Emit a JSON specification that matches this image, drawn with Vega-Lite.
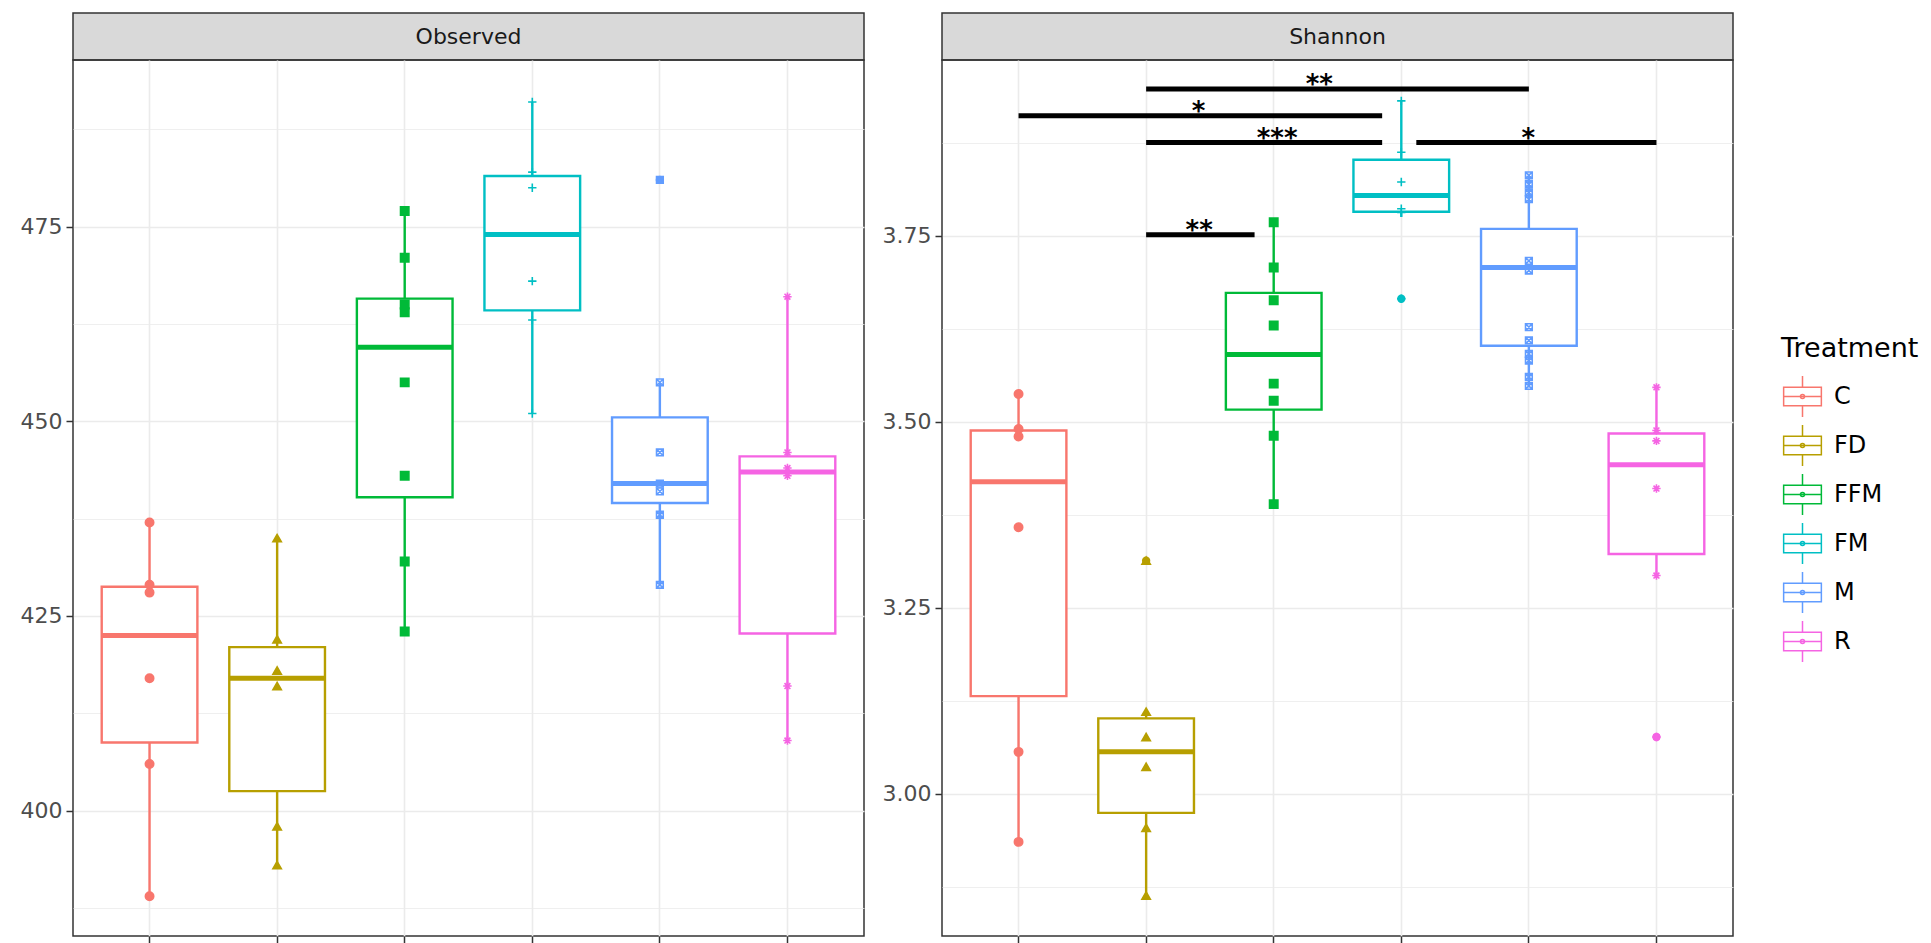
{
  "$schema": "https://vega.github.io/schema/vega-lite/v6.json",
  "padding": {"left": 19, "top": 12, "right": 0, "bottom": 0},
  "background": "white",
  "datasets": {
    "stats": [
      {"metric": "Observed", "Treatment": "C", "lo": 389, "q1": 408.75, "med": 422.5, "q3": 428.75, "hi": 437},
      {"metric": "Observed", "Treatment": "FD", "lo": 393, "q1": 402.5, "med": 417, "q3": 421, "hi": 435},
      {"metric": "Observed", "Treatment": "FFM", "lo": 423, "q1": 440.25, "med": 459.5, "q3": 465.75, "hi": 477},
      {"metric": "Observed", "Treatment": "FM", "lo": 451, "q1": 464.25, "med": 474, "q3": 481.5, "hi": 491},
      {"metric": "Observed", "Treatment": "M", "lo": 429, "q1": 439.5, "med": 442, "q3": 450.5, "hi": 455},
      {"metric": "Observed", "Treatment": "R", "lo": 409, "q1": 422.75, "med": 443.5, "q3": 445.5, "hi": 466},
      {"metric": "Shannon", "Treatment": "C", "lo": 2.935, "q1": 3.131, "med": 3.419, "q3": 3.488, "hi": 3.537},
      {"metric": "Shannon", "Treatment": "FD", "lo": 2.863, "q1": 2.974, "med": 3.056, "q3": 3.101, "hi": 3.11},
      {"metric": "Shannon", "Treatment": "FFM", "lo": 3.389, "q1": 3.516, "med": 3.59, "q3": 3.673, "hi": 3.768},
      {"metric": "Shannon", "Treatment": "FM", "lo": 3.775, "q1": 3.782, "med": 3.804, "q3": 3.852, "hi": 3.931},
      {"metric": "Shannon", "Treatment": "M", "lo": 3.546, "q1": 3.602, "med": 3.707, "q3": 3.759, "hi": 3.833},
      {"metric": "Shannon", "Treatment": "R", "lo": 3.293, "q1": 3.322, "med": 3.442, "q3": 3.484, "hi": 3.546}
    ],
    "points": [
      {"metric": "Observed", "Treatment": "C", "value": 389},
      {"metric": "Observed", "Treatment": "C", "value": 406},
      {"metric": "Observed", "Treatment": "C", "value": 417},
      {"metric": "Observed", "Treatment": "C", "value": 428},
      {"metric": "Observed", "Treatment": "C", "value": 429},
      {"metric": "Observed", "Treatment": "C", "value": 437},
      {"metric": "Observed", "Treatment": "FD", "value": 393},
      {"metric": "Observed", "Treatment": "FD", "value": 398},
      {"metric": "Observed", "Treatment": "FD", "value": 416},
      {"metric": "Observed", "Treatment": "FD", "value": 418},
      {"metric": "Observed", "Treatment": "FD", "value": 422},
      {"metric": "Observed", "Treatment": "FD", "value": 435},
      {"metric": "Observed", "Treatment": "FFM", "value": 423},
      {"metric": "Observed", "Treatment": "FFM", "value": 432},
      {"metric": "Observed", "Treatment": "FFM", "value": 443},
      {"metric": "Observed", "Treatment": "FFM", "value": 455},
      {"metric": "Observed", "Treatment": "FFM", "value": 464},
      {"metric": "Observed", "Treatment": "FFM", "value": 465},
      {"metric": "Observed", "Treatment": "FFM", "value": 471},
      {"metric": "Observed", "Treatment": "FFM", "value": 477},
      {"metric": "Observed", "Treatment": "FM", "value": 451},
      {"metric": "Observed", "Treatment": "FM", "value": 463},
      {"metric": "Observed", "Treatment": "FM", "value": 468},
      {"metric": "Observed", "Treatment": "FM", "value": 480},
      {"metric": "Observed", "Treatment": "FM", "value": 482},
      {"metric": "Observed", "Treatment": "FM", "value": 491},
      {"metric": "Observed", "Treatment": "M", "value": 429},
      {"metric": "Observed", "Treatment": "M", "value": 438},
      {"metric": "Observed", "Treatment": "M", "value": 441},
      {"metric": "Observed", "Treatment": "M", "value": 442},
      {"metric": "Observed", "Treatment": "M", "value": 446},
      {"metric": "Observed", "Treatment": "M", "value": 455},
      {"metric": "Observed", "Treatment": "M", "value": 481, "outlier": true},
      {"metric": "Observed", "Treatment": "R", "value": 409},
      {"metric": "Observed", "Treatment": "R", "value": 416},
      {"metric": "Observed", "Treatment": "R", "value": 443},
      {"metric": "Observed", "Treatment": "R", "value": 444},
      {"metric": "Observed", "Treatment": "R", "value": 446},
      {"metric": "Observed", "Treatment": "R", "value": 466},
      {"metric": "Shannon", "Treatment": "C", "value": 2.935},
      {"metric": "Shannon", "Treatment": "C", "value": 3.056},
      {"metric": "Shannon", "Treatment": "C", "value": 3.358},
      {"metric": "Shannon", "Treatment": "C", "value": 3.48},
      {"metric": "Shannon", "Treatment": "C", "value": 3.49},
      {"metric": "Shannon", "Treatment": "C", "value": 3.537},
      {"metric": "Shannon", "Treatment": "FD", "value": 2.863},
      {"metric": "Shannon", "Treatment": "FD", "value": 2.954},
      {"metric": "Shannon", "Treatment": "FD", "value": 3.036},
      {"metric": "Shannon", "Treatment": "FD", "value": 3.076},
      {"metric": "Shannon", "Treatment": "FD", "value": 3.11},
      {"metric": "Shannon", "Treatment": "FD", "value": 3.313, "outlier": true},
      {"metric": "Shannon", "Treatment": "FFM", "value": 3.389},
      {"metric": "Shannon", "Treatment": "FFM", "value": 3.481},
      {"metric": "Shannon", "Treatment": "FFM", "value": 3.528},
      {"metric": "Shannon", "Treatment": "FFM", "value": 3.551},
      {"metric": "Shannon", "Treatment": "FFM", "value": 3.629},
      {"metric": "Shannon", "Treatment": "FFM", "value": 3.663},
      {"metric": "Shannon", "Treatment": "FFM", "value": 3.707},
      {"metric": "Shannon", "Treatment": "FFM", "value": 3.768},
      {"metric": "Shannon", "Treatment": "FM", "value": 3.665, "outlier": true},
      {"metric": "Shannon", "Treatment": "FM", "value": 3.781},
      {"metric": "Shannon", "Treatment": "FM", "value": 3.786},
      {"metric": "Shannon", "Treatment": "FM", "value": 3.822},
      {"metric": "Shannon", "Treatment": "FM", "value": 3.862},
      {"metric": "Shannon", "Treatment": "FM", "value": 3.931},
      {"metric": "Shannon", "Treatment": "M", "value": 3.548},
      {"metric": "Shannon", "Treatment": "M", "value": 3.56},
      {"metric": "Shannon", "Treatment": "M", "value": 3.582},
      {"metric": "Shannon", "Treatment": "M", "value": 3.591},
      {"metric": "Shannon", "Treatment": "M", "value": 3.609},
      {"metric": "Shannon", "Treatment": "M", "value": 3.627},
      {"metric": "Shannon", "Treatment": "M", "value": 3.703},
      {"metric": "Shannon", "Treatment": "M", "value": 3.716},
      {"metric": "Shannon", "Treatment": "M", "value": 3.799},
      {"metric": "Shannon", "Treatment": "M", "value": 3.808},
      {"metric": "Shannon", "Treatment": "M", "value": 3.819},
      {"metric": "Shannon", "Treatment": "M", "value": 3.831},
      {"metric": "Shannon", "Treatment": "R", "value": 3.076, "outlier": true},
      {"metric": "Shannon", "Treatment": "R", "value": 3.293},
      {"metric": "Shannon", "Treatment": "R", "value": 3.41},
      {"metric": "Shannon", "Treatment": "R", "value": 3.474},
      {"metric": "Shannon", "Treatment": "R", "value": 3.488},
      {"metric": "Shannon", "Treatment": "R", "value": 3.546}
    ],
    "sig": [
      {"g1": "FD", "g2": "M", "y": 3.947, "label": "**"},
      {"g1": "C", "g2": "FM", "y": 3.911, "label": "*"},
      {"g1": "FD", "g2": "FM", "y": 3.875, "label": "***"},
      {"g1": "FM", "g2": "R", "y": 3.875, "label": "*"},
      {"g1": "FD", "g2": "FFM", "y": 3.751, "label": "**"}
    ]
  },
  "columns": 2,
  "bounds": "flush",
  "spacing": {"row": 0, "column": 78},
  "concat": [
    {
      "width": 791, "height": 47,
      "view": {"fill": "#d9d9d9", "stroke": "#333333", "strokeWidth": 1.5},
      "data": {"values": [{"panel": "Observed"}]},
      "mark": {"type": "text", "fontSize": 22, "font": "DejaVu Sans", "fill": "#1a1a1a", "baseline": "middle", "align": "center"},
      "encoding": {"text": {"field": "panel"}}
    },
    {
      "width": 791, "height": 47,
      "view": {"fill": "#d9d9d9", "stroke": "#333333", "strokeWidth": 1.5},
      "data": {"values": [{"panel": "Shannon"}]},
      "mark": {"type": "text", "fontSize": 22, "font": "DejaVu Sans", "fill": "#1a1a1a", "baseline": "middle", "align": "center"},
      "encoding": {"text": {"field": "panel"}}
    },
    {
      "width": 791, "height": 876,
      "layer": [
        {
          "data": {"name": "stats"},
          "transform": [{"filter": "datum.metric === 'Observed'"}],
          "mark": {"type": "rule", "strokeWidth": 2.4},
          "encoding": {
            "x": {"field": "Treatment", "type": "nominal", "scale": {"domain": ["C", "FD", "FFM", "FM", "M", "R"], "paddingInner": 0.25, "paddingOuter": 0.225},
                  "axis": {"title": null, "labels": false, "ticks": true, "tickSize": 7, "tickColor": "#333333", "tickWidth": 1.5, "grid": true, "gridColor": "#ebebeb", "gridWidth": 1.6, "domain": false, "bandPosition": 0.5}},
            "y": {"field": "lo", "type": "quantitative", "scale": {"domain": [383.9, 496.4], "nice": false, "zero": false},
                  "axis": {"title": null, "values": [387.5, 400, 412.5, 425, 437.5, 450, 462.5, 475, 487.5],
                           "labelExpr": "datum.value % 25 === 0 ? datum.label : ''",
                           "tickOpacity": {"condition": {"test": "datum.value % 25 === 0", "value": 1}, "value": 0},
                           "gridWidth": {"condition": {"test": "datum.value % 25 === 0", "value": 1.6}, "value": 0.8},
                           "gridColor": "#ebebeb", "tickSize": 7, "tickColor": "#333333", "tickWidth": 1.5,
                           "labelColor": "#4d4d4d", "labelFontSize": 22, "labelFont": "DejaVu Sans", "labelPadding": 4,
                           "domain": false, "labelOverlap": false}},
            "y2": {"field": "hi"},
            "stroke": {"field": "Treatment", "type": "nominal", "scale": {"range": ["#F8766D", "#B79F00", "#00BA38", "#00BFC4", "#619CFF", "#F564E3"]}}
          }
        },
        {
          "data": {"name": "stats"},
          "transform": [{"filter": "datum.metric === 'Observed'"}],
          "mark": {"type": "bar", "fill": "white", "strokeWidth": 2.4},
          "encoding": {
            "x": {"field": "Treatment", "type": "nominal", "scale": {"domain": ["C", "FD", "FFM", "FM", "M", "R"], "paddingInner": 0.25, "paddingOuter": 0.225}},
            "y": {"field": "q1", "type": "quantitative", "scale": {"domain": [383.9, 496.4], "nice": false, "zero": false}},
            "y2": {"field": "q3"},
            "stroke": {"field": "Treatment", "type": "nominal", "scale": {"range": ["#F8766D", "#B79F00", "#00BA38", "#00BFC4", "#619CFF", "#F564E3"]},
                       "legend": {"title": "Treatment", "orient": "none", "legendX": 1708, "legendY": 323,
                                  "symbolType": "M-0.92,-0.45H0.92V0.45H-0.92Z M-0.92,0H0.92 M0,-0.45V-1 M0,0.45V1 M-0.1,0 a0.1,0.1 0 1,0 0.2,0 a0.1,0.1 0 1,0 -0.2,0",
                                  "symbolSize": 1681, "symbolStrokeWidth": 1.5, "symbolFillColor": "white",
                                  "labelFontSize": 24, "labelFont": "DejaVu Sans", "labelColor": "#000000",
                                  "titleFontSize": 27, "titleFont": "DejaVu Sans", "titleFontWeight": "normal", "titleColor": "#000000",
                                  "titlePadding": 12, "labelOffset": 10, "rowPadding": 2, "padding": 0}}
          }
        },
        {
          "data": {"name": "stats"},
          "transform": [{"filter": "datum.metric === 'Observed'"}],
          "mark": {"type": "rule", "strokeWidth": 5},
          "encoding": {
            "x": {"field": "Treatment", "type": "nominal", "bandPosition": 0, "scale": {"domain": ["C", "FD", "FFM", "FM", "M", "R"], "paddingInner": 0.25, "paddingOuter": 0.225}},
            "x2": {"field": "Treatment", "bandPosition": 1},
            "y": {"field": "med", "type": "quantitative", "scale": {"domain": [383.9, 496.4], "nice": false, "zero": false}},
            "stroke": {"field": "Treatment", "type": "nominal", "scale": {"range": ["#F8766D", "#B79F00", "#00BA38", "#00BFC4", "#619CFF", "#F564E3"]}}
          }
        },
        {
          "data": {"name": "points"},
          "transform": [{"filter": "datum.metric === 'Observed' && datum.outlier === true"}],
          "mark": {"type": "point", "shape": "circle", "filled": true, "size": 70, "opacity": 1},
          "encoding": {
            "x": {"field": "Treatment", "type": "nominal", "scale": {"domain": ["C", "FD", "FFM", "FM", "M", "R"], "paddingInner": 0.25, "paddingOuter": 0.225}},
            "y": {"field": "value", "type": "quantitative", "scale": {"domain": [383.9, 496.4], "nice": false, "zero": false}},
            "color": {"field": "Treatment", "type": "nominal", "scale": {"domain": ["C", "FD", "FFM", "FM", "M", "R"], "range": ["#F8766D", "#B79F00", "#00BA38", "#00BFC4", "#619CFF", "#F564E3"]}, "legend": null}
          }
        },
        {
          "data": {"name": "points"},
          "transform": [{"filter": "datum.metric === 'Observed'"}],
          "mark": {"type": "point", "filled": false, "size": 70, "strokeWidth": 1.6, "opacity": 1},
          "encoding": {
            "x": {"field": "Treatment", "type": "nominal", "scale": {"domain": ["C", "FD", "FFM", "FM", "M", "R"], "paddingInner": 0.25, "paddingOuter": 0.225}},
            "y": {"field": "value", "type": "quantitative", "scale": {"domain": [383.9, 496.4], "nice": false, "zero": false}},
            "shape": {"field": "Treatment", "type": "nominal", "scale": {"domain": ["C", "FD", "FFM", "FM", "M", "R"], "range": ["circle", "triangle-up", "square", "M-1,0H1M0,-1V1", "M-0.8,-0.8H0.8V0.8H-0.8Z M-0.8,-0.8L0.8,0.8 M-0.8,0.8L0.8,-0.8", "M-1,0H1M0,-1V1M-0.7,-0.7L0.7,0.7M-0.7,0.7L0.7,-0.7"]}, "legend": null},
            "fill": {"field": "Treatment", "type": "nominal", "scale": {"domain": ["C", "FD", "FFM", "FM", "M", "R"], "range": ["#F8766D", "#B79F00", "#00BA38", "transparent", "transparent", "transparent"]}, "legend": null},
            "color": {"field": "Treatment", "type": "nominal", "scale": {"domain": ["C", "FD", "FFM", "FM", "M", "R"], "range": ["#F8766D", "#B79F00", "#00BA38", "#00BFC4", "#619CFF", "#F564E3"]}, "legend": null}
          }
        }
      ]
    },
    {
      "width": 791, "height": 876,
      "layer": [
        {
          "data": {"name": "stats"},
          "transform": [{"filter": "datum.metric === 'Shannon'"}],
          "mark": {"type": "rule", "strokeWidth": 2.4},
          "encoding": {
            "x": {"field": "Treatment", "type": "nominal", "scale": {"domain": ["C", "FD", "FFM", "FM", "M", "R"], "paddingInner": 0.25, "paddingOuter": 0.225},
                  "axis": {"title": null, "labels": false, "ticks": true, "tickSize": 7, "tickColor": "#333333", "tickWidth": 1.5, "grid": true, "gridColor": "#ebebeb", "gridWidth": 1.6, "domain": false, "bandPosition": 0.5}},
            "y": {"field": "lo", "type": "quantitative", "scale": {"domain": [2.8085, 3.986], "nice": false, "zero": false},
                  "axis": {"title": null, "values": [2.875, 3.0, 3.125, 3.25, 3.375, 3.5, 3.625, 3.75, 3.875],
                           "labelExpr": "abs(datum.value*4 - round(datum.value*4)) < 0.001 ? format(datum.value, '.2f') : ''",
                           "tickOpacity": {"condition": {"test": "abs(datum.value*4 - round(datum.value*4)) < 0.001", "value": 1}, "value": 0},
                           "gridWidth": {"condition": {"test": "abs(datum.value*4 - round(datum.value*4)) < 0.001", "value": 1.6}, "value": 0.8},
                           "gridColor": "#ebebeb", "tickSize": 7, "tickColor": "#333333", "tickWidth": 1.5,
                           "labelColor": "#4d4d4d", "labelFontSize": 22, "labelFont": "DejaVu Sans", "labelPadding": 4,
                           "domain": false, "labelOverlap": false}},
            "y2": {"field": "hi"},
            "stroke": {"field": "Treatment", "type": "nominal", "scale": {"range": ["#F8766D", "#B79F00", "#00BA38", "#00BFC4", "#619CFF", "#F564E3"]}}
          }
        },
        {
          "data": {"name": "stats"},
          "transform": [{"filter": "datum.metric === 'Shannon'"}],
          "mark": {"type": "bar", "fill": "white", "strokeWidth": 2.4},
          "encoding": {
            "x": {"field": "Treatment", "type": "nominal", "scale": {"domain": ["C", "FD", "FFM", "FM", "M", "R"], "paddingInner": 0.25, "paddingOuter": 0.225}},
            "y": {"field": "q1", "type": "quantitative", "scale": {"domain": [2.8085, 3.986], "nice": false, "zero": false}},
            "y2": {"field": "q3"},
            "stroke": {"field": "Treatment", "type": "nominal", "scale": {"range": ["#F8766D", "#B79F00", "#00BA38", "#00BFC4", "#619CFF", "#F564E3"]}}
          }
        },
        {
          "data": {"name": "stats"},
          "transform": [{"filter": "datum.metric === 'Shannon'"}],
          "mark": {"type": "rule", "strokeWidth": 5},
          "encoding": {
            "x": {"field": "Treatment", "type": "nominal", "bandPosition": 0, "scale": {"domain": ["C", "FD", "FFM", "FM", "M", "R"], "paddingInner": 0.25, "paddingOuter": 0.225}},
            "x2": {"field": "Treatment", "bandPosition": 1},
            "y": {"field": "med", "type": "quantitative", "scale": {"domain": [2.8085, 3.986], "nice": false, "zero": false}},
            "stroke": {"field": "Treatment", "type": "nominal", "scale": {"range": ["#F8766D", "#B79F00", "#00BA38", "#00BFC4", "#619CFF", "#F564E3"]}}
          }
        },
        {
          "data": {"name": "points"},
          "transform": [{"filter": "datum.metric === 'Shannon' && datum.outlier === true"}],
          "mark": {"type": "point", "shape": "circle", "filled": true, "size": 70, "opacity": 1},
          "encoding": {
            "x": {"field": "Treatment", "type": "nominal", "scale": {"domain": ["C", "FD", "FFM", "FM", "M", "R"], "paddingInner": 0.25, "paddingOuter": 0.225}},
            "y": {"field": "value", "type": "quantitative", "scale": {"domain": [2.8085, 3.986], "nice": false, "zero": false}},
            "color": {"field": "Treatment", "type": "nominal", "scale": {"domain": ["C", "FD", "FFM", "FM", "M", "R"], "range": ["#F8766D", "#B79F00", "#00BA38", "#00BFC4", "#619CFF", "#F564E3"]}, "legend": null}
          }
        },
        {
          "data": {"name": "points"},
          "transform": [{"filter": "datum.metric === 'Shannon'"}],
          "mark": {"type": "point", "filled": false, "size": 70, "strokeWidth": 1.6, "opacity": 1},
          "encoding": {
            "x": {"field": "Treatment", "type": "nominal", "scale": {"domain": ["C", "FD", "FFM", "FM", "M", "R"], "paddingInner": 0.25, "paddingOuter": 0.225}},
            "y": {"field": "value", "type": "quantitative", "scale": {"domain": [2.8085, 3.986], "nice": false, "zero": false}},
            "shape": {"field": "Treatment", "type": "nominal", "scale": {"domain": ["C", "FD", "FFM", "FM", "M", "R"], "range": ["circle", "triangle-up", "square", "M-1,0H1M0,-1V1", "M-0.8,-0.8H0.8V0.8H-0.8Z M-0.8,-0.8L0.8,0.8 M-0.8,0.8L0.8,-0.8", "M-1,0H1M0,-1V1M-0.7,-0.7L0.7,0.7M-0.7,0.7L0.7,-0.7"]}, "legend": null},
            "fill": {"field": "Treatment", "type": "nominal", "scale": {"domain": ["C", "FD", "FFM", "FM", "M", "R"], "range": ["#F8766D", "#B79F00", "#00BA38", "transparent", "transparent", "transparent"]}, "legend": null},
            "color": {"field": "Treatment", "type": "nominal", "scale": {"domain": ["C", "FD", "FFM", "FM", "M", "R"], "range": ["#F8766D", "#B79F00", "#00BA38", "#00BFC4", "#619CFF", "#F564E3"]}, "legend": null}
          }
        },
        {
          "data": {"name": "sig"},
          "transform": [{"filter": "datum.g2 === 'M'"}],
          "mark": {"type": "rule", "strokeWidth": 5, "stroke": "#000000"},
          "encoding": {
            "x": {"field": "g1", "type": "nominal", "bandPosition": 0.5, "scale": {"domain": ["C", "FD", "FFM", "FM", "M", "R"], "paddingInner": 0.25, "paddingOuter": 0.225}},
            "x2": {"field": "g2", "bandPosition": 0.5},
            "y": {"field": "y", "type": "quantitative", "scale": {"domain": [2.8085, 3.986], "nice": false, "zero": false}}
          }
        },
        {
          "data": {"name": "sig"},
          "transform": [{"filter": "datum.g2 === 'FM' || datum.g2 === 'FFM'"}],
          "mark": {"type": "rule", "strokeWidth": 5, "stroke": "#000000"},
          "encoding": {
            "x": {"field": "g1", "type": "nominal", "bandPosition": 0.5, "scale": {"domain": ["C", "FD", "FFM", "FM", "M", "R"], "paddingInner": 0.25, "paddingOuter": 0.225}},
            "x2": {"field": "g2", "bandPosition": 0.3},
            "y": {"field": "y", "type": "quantitative", "scale": {"domain": [2.8085, 3.986], "nice": false, "zero": false}}
          }
        },
        {
          "data": {"name": "sig"},
          "transform": [{"filter": "datum.g1 === 'FM'"}],
          "mark": {"type": "rule", "strokeWidth": 5, "stroke": "#000000"},
          "encoding": {
            "x": {"field": "g1", "type": "nominal", "bandPosition": 0.657, "scale": {"domain": ["C", "FD", "FFM", "FM", "M", "R"], "paddingInner": 0.25, "paddingOuter": 0.225}},
            "x2": {"field": "g2", "bandPosition": 0.5},
            "y": {"field": "y", "type": "quantitative", "scale": {"domain": [2.8085, 3.986], "nice": false, "zero": false}}
          }
        },
        {
          "data": {"name": "sig"},
          "transform": [{"filter": "datum.g1 === 'FD' && datum.g2 === 'M'"}],
          "mark": {"type": "text", "fontSize": 26, "fontWeight": "bold", "font": "DejaVu Sans", "fill": "#000000", "baseline": "alphabetic", "align": "center", "dy": 4},
          "encoding": {
            "x": {"field": "g1", "type": "nominal", "bandPosition": 2.31, "scale": {"domain": ["C", "FD", "FFM", "FM", "M", "R"], "paddingInner": 0.25, "paddingOuter": 0.225}},
            "y": {"field": "y", "type": "quantitative", "scale": {"domain": [2.8085, 3.986], "nice": false, "zero": false}},
            "text": {"field": "label"}
          }
        },
        {
          "data": {"name": "sig"},
          "transform": [{"filter": "datum.g1 === 'C' && datum.g2 === 'FM'"}],
          "mark": {"type": "text", "fontSize": 26, "fontWeight": "bold", "font": "DejaVu Sans", "fill": "#000000", "baseline": "alphabetic", "align": "center", "dy": 4},
          "encoding": {
            "x": {"field": "g1", "type": "nominal", "bandPosition": 2.38, "scale": {"domain": ["C", "FD", "FFM", "FM", "M", "R"], "paddingInner": 0.25, "paddingOuter": 0.225}},
            "y": {"field": "y", "type": "quantitative", "scale": {"domain": [2.8085, 3.986], "nice": false, "zero": false}},
            "text": {"field": "label"}
          }
        },
        {
          "data": {"name": "sig"},
          "transform": [{"filter": "datum.g1 === 'FD' && datum.g2 === 'FM'"}],
          "mark": {"type": "text", "fontSize": 26, "fontWeight": "bold", "font": "DejaVu Sans", "fill": "#000000", "baseline": "alphabetic", "align": "center", "dy": 4},
          "encoding": {
            "x": {"field": "g1", "type": "nominal", "bandPosition": 1.869, "scale": {"domain": ["C", "FD", "FFM", "FM", "M", "R"], "paddingInner": 0.25, "paddingOuter": 0.225}},
            "y": {"field": "y", "type": "quantitative", "scale": {"domain": [2.8085, 3.986], "nice": false, "zero": false}},
            "text": {"field": "label"}
          }
        },
        {
          "data": {"name": "sig"},
          "transform": [{"filter": "datum.g1 === 'FD' && datum.g2 === 'FFM'"}],
          "mark": {"type": "text", "fontSize": 26, "fontWeight": "bold", "font": "DejaVu Sans", "fill": "#000000", "baseline": "alphabetic", "align": "center", "dy": 4},
          "encoding": {
            "x": {"field": "g1", "type": "nominal", "bandPosition": 1.054, "scale": {"domain": ["C", "FD", "FFM", "FM", "M", "R"], "paddingInner": 0.25, "paddingOuter": 0.225}},
            "y": {"field": "y", "type": "quantitative", "scale": {"domain": [2.8085, 3.986], "nice": false, "zero": false}},
            "text": {"field": "label"}
          }
        },
        {
          "data": {"name": "sig"},
          "transform": [{"filter": "datum.g1 === 'FM' && datum.g2 === 'R'"}],
          "mark": {"type": "text", "fontSize": 26, "fontWeight": "bold", "font": "DejaVu Sans", "fill": "#000000", "baseline": "alphabetic", "align": "center", "dy": 4},
          "encoding": {
            "x": {"field": "g1", "type": "nominal", "bandPosition": 1.827, "scale": {"domain": ["C", "FD", "FFM", "FM", "M", "R"], "paddingInner": 0.25, "paddingOuter": 0.225}},
            "y": {"field": "y", "type": "quantitative", "scale": {"domain": [2.8085, 3.986], "nice": false, "zero": false}},
            "text": {"field": "label"}
          }
        }
      ]
    }
  ],
  "config": {
    "font": "DejaVu Sans",
    "view": {"stroke": "#333333", "strokeWidth": 1.5}
  }
}
